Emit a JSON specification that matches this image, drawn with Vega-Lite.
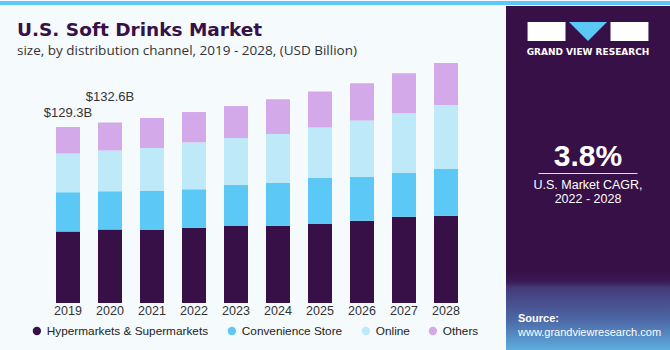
{
  "$schema": "https://vega.github.io/schema/vega-lite/v6.json",
  "background": "#f5fafd",
  "padding": 0,
  "config": {
    "view": {"stroke": null},
    "font": "Liberation Sans",
    "concat": {"spacing": 0}
  },
  "datasets": {
    "sales": [
      {"year": "2019", "channel": "Hypermarkets & Supermarkets", "value": 52.5},
      {"year": "2019", "channel": "Convenience Store", "value": 28.8},
      {"year": "2019", "channel": "Online", "value": 28.6},
      {"year": "2019", "channel": "Others", "value": 19.4},
      {"year": "2020", "channel": "Hypermarkets & Supermarkets", "value": 54.0},
      {"year": "2020", "channel": "Convenience Store", "value": 28.1},
      {"year": "2020", "channel": "Online", "value": 30.0},
      {"year": "2020", "channel": "Others", "value": 20.5},
      {"year": "2021", "channel": "Hypermarkets & Supermarkets", "value": 53.6},
      {"year": "2021", "channel": "Convenience Store", "value": 28.7},
      {"year": "2021", "channel": "Online", "value": 31.6},
      {"year": "2021", "channel": "Others", "value": 22.0},
      {"year": "2022", "channel": "Hypermarkets & Supermarkets", "value": 55.3},
      {"year": "2022", "channel": "Convenience Store", "value": 28.2},
      {"year": "2022", "channel": "Online", "value": 34.5},
      {"year": "2022", "channel": "Others", "value": 22.3},
      {"year": "2023", "channel": "Hypermarkets & Supermarkets", "value": 56.6},
      {"year": "2023", "channel": "Convenience Store", "value": 30.1},
      {"year": "2023", "channel": "Online", "value": 34.5},
      {"year": "2023", "channel": "Others", "value": 23.5},
      {"year": "2024", "channel": "Hypermarkets & Supermarkets", "value": 56.8},
      {"year": "2024", "channel": "Convenience Store", "value": 31.4},
      {"year": "2024", "channel": "Online", "value": 36.0},
      {"year": "2024", "channel": "Others", "value": 25.5},
      {"year": "2025", "channel": "Hypermarkets & Supermarkets", "value": 58.0},
      {"year": "2025", "channel": "Convenience Store", "value": 33.8},
      {"year": "2025", "channel": "Online", "value": 37.2},
      {"year": "2025", "channel": "Others", "value": 26.4},
      {"year": "2026", "channel": "Hypermarkets & Supermarkets", "value": 60.5},
      {"year": "2026", "channel": "Convenience Store", "value": 32.1},
      {"year": "2026", "channel": "Online", "value": 41.4},
      {"year": "2026", "channel": "Others", "value": 27.5},
      {"year": "2027", "channel": "Hypermarkets & Supermarkets", "value": 63.4},
      {"year": "2027", "channel": "Convenience Store", "value": 32.1},
      {"year": "2027", "channel": "Online", "value": 43.9},
      {"year": "2027", "channel": "Others", "value": 29.4},
      {"year": "2028", "channel": "Hypermarkets & Supermarkets", "value": 64.1},
      {"year": "2028", "channel": "Convenience Store", "value": 34.3},
      {"year": "2028", "channel": "Online", "value": 47.0},
      {"year": "2028", "channel": "Others", "value": 30.9}
    ],
    "channels": [
      {"channel": "Hypermarkets & Supermarkets", "rank": 1},
      {"channel": "Convenience Store", "rank": 2},
      {"channel": "Online", "rank": 3},
      {"channel": "Others", "rank": 4}
    ],
    "labels": [
      {"year": "2019", "total": 129.3, "label": "$129.3B"},
      {"year": "2020", "total": 132.6, "label": "$132.6B"}
    ],
    "logo": [{"part": "G"}, {"part": "V"}, {"part": "R"}],
    "blank": [{}]
  },
  "spacing": 0,
  "vconcat": [
    {
      "width": 670, "height": 4,
      "data": {"name": "blank"},
      "mark": {"type": "point", "opacity": 0},
      "encoding": {},
      "view": {"fill": "#5bc8f5", "stroke": null}
    },
    {
      "spacing": 20,
      "hconcat": [
        {
          "spacing": 0,
          "vconcat": [
            {
              "width": 486, "height": 15,
              "data": {"name": "blank"},
              "mark": {"type": "point", "opacity": 0},
              "encoding": {}
            },
            {
              "width": 486, "height": 245,
              "title": {
                "text": "U.S. Soft Drinks Market",
                "subtitle": "size, by distribution channel, 2019 - 2028, (USD Billion)",
                "anchor": "start", "frame": "group", "dx": 17, "offset": 1,
                "font": "DejaVu Sans", "fontSize": 18.5, "fontWeight": "bold", "color": "#371047",
                "subtitleFont": "Open Sans", "subtitleFontSize": 13.5,
                "subtitleColor": "#333333", "subtitlePadding": 4
              },
              "encoding": {
                "x": {
                  "field": "year", "type": "ordinal",
                  "scale": {
                    "type": "band",
                    "domain": ["2019","2020","2021","2022","2023","2024","2025","2026","2027","2028"],
                    "paddingInner": 0.4286, "paddingOuter": 1, "align": 0.6667
                  },
                  "axis": {
                    "title": null, "domain": false, "ticks": false, "tickSize": 0,
                    "labelPadding": 1, "labelFontSize": 12.5, "labelColor": "#333333",
                    "labelAngle": 0
                  }
                }
              },
              "layer": [
                {
                  "data": {"name": "sales"},
                  "transform": [
                    {"lookup": "channel", "from": {"data": {"name": "channels"}, "key": "channel", "fields": ["rank"]}}
                  ],
                  "mark": {"type": "bar"},
                  "encoding": {
                    "y": {
                      "field": "value", "type": "quantitative", "stack": "zero",
                      "scale": {"domain": [0, 180]}, "axis": null
                    },
                    "order": {"field": "rank", "type": "quantitative", "sort": "ascending"},
                    "color": {
                      "field": "channel", "type": "nominal",
                      "sort": ["Hypermarkets & Supermarkets", "Convenience Store", "Online", "Others"],
                      "scale": {
                        "domain": ["Hypermarkets & Supermarkets", "Convenience Store", "Online", "Others"],
                        "range": ["#371047", "#5bc8f5", "#bde9f9", "#d4a9ea"]
                      },
                      "legend": {
                        "title": null, "orient": "none", "legendX": 31, "legendY": 324,
                        "direction": "horizontal",
                        "symbolType": "circle", "symbolSize": 70, "symbolStrokeWidth": 0,
                        "labelFontSize": 11.8, "labelColor": "#222222", "labelLimit": 400,
                        "columnPadding": 17, "labelOffset": 4
                      }
                    }
                  }
                },
                {
                  "data": {"name": "labels"},
                  "transform": [{"filter": "datum.year == '2019'"}],
                  "mark": {"type": "text", "baseline": "alphabetic", "dy": -10, "fontSize": 13, "color": "#333333"},
                  "encoding": {
                    "y": {"field": "total", "type": "quantitative"},
                    "text": {"field": "label"}
                  }
                },
                {
                  "data": {"name": "labels"},
                  "transform": [{"filter": "datum.year == '2020'"}],
                  "mark": {"type": "text", "baseline": "alphabetic", "dy": -21.5, "fontSize": 13, "color": "#333333"},
                  "encoding": {
                    "y": {"field": "total", "type": "quantitative"},
                    "text": {"field": "label"}
                  }
                }
              ]
            }
          ]
        },
        {
          "spacing": 0,
          "vconcat": [
            {
              "width": 164, "height": 16,
              "data": {"name": "blank"},
              "mark": {"type": "point", "opacity": 0},
              "encoding": {},
              "view": {"fill": "#371047"}
            },
            {
              "width": 164, "height": 19,
              "data": {"name": "logo"},
              "view": {"fill": "#371047"},
              "encoding": {
                "x": {
                  "field": "part", "type": "nominal",
                  "scale": {"domain": ["G", "V", "R"], "paddingInner": 0.085, "paddingOuter": 0.52},
                  "axis": null
                }
              },
              "layer": [
                {
                  "transform": [{"filter": "datum.part != 'V'"}],
                  "mark": {"type": "bar", "color": "#ffffff"}
                },
                {
                  "transform": [{"filter": "datum.part == 'V'"}],
                  "mark": {"type": "point", "shape": "M-1,-0.5L1,-0.5L0,0.5Z", "size": 1444, "filled": true, "color": "#5bc8f5", "opacity": 1, "strokeWidth": 0}
                }
              ]
            },
            {
              "width": 164, "height": 27,
              "data": {"name": "blank"},
              "mark": {"type": "point", "opacity": 0},
              "encoding": {},
              "view": {"fill": "#371047"},
              "title": {
                "text": "GRAND VIEW RESEARCH", "orient": "bottom", "anchor": "middle", "frame": "group",
                "baseline": "top", "offset": -19.8,
                "font": "DejaVu Sans", "fontSize": 9, "fontWeight": "bold", "color": "#ffffff"
              }
            },
            {
              "width": 164, "height": 105,
              "data": {"name": "blank"},
              "mark": {"type": "point", "opacity": 0},
              "encoding": {},
              "view": {"fill": "#371047"},
              "title": {
                "text": "3.8%", "orient": "bottom", "anchor": "middle", "frame": "group",
                "baseline": "top", "offset": -31.5,
                "font": "Liberation Sans", "fontSize": 30, "fontWeight": "bold", "color": "#ffffff"
              }
            },
            {
              "width": 164, "height": 1,
              "data": {"values": [{"k": "rule"}]},
              "view": {"fill": "#371047"},
              "mark": {"type": "bar", "color": "#e6dcee"},
              "encoding": {
                "x": {"field": "k", "type": "nominal", "scale": {"paddingInner": 0, "paddingOuter": 0.328}, "axis": null}
              }
            },
            {
              "width": 164, "height": 98,
              "data": {"name": "blank"},
              "mark": {"type": "point", "opacity": 0},
              "encoding": {},
              "view": {"fill": "#371047"},
              "title": {
                "text": ["U.S. Market CAGR,", "2022 - 2028"], "orient": "bottom", "anchor": "middle", "frame": "group",
                "baseline": "top", "offset": -93, "lineHeight": 14,
                "font": "Liberation Sans", "fontSize": 12.5, "fontWeight": "normal", "color": "#ffffff"
              }
            },
            {
              "width": 164, "height": 80,
              "data": {"name": "blank"},
              "mark": {"type": "point", "opacity": 0},
              "encoding": {},
              "view": {
                "fill": {
                  "gradient": "linear", "x1": 0, "y1": 0, "x2": 0, "y2": 1,
                  "stops": [
                    {"offset": 0, "color": "#371047"},
                    {"offset": 0.12, "color": "#3b1a56"},
                    {"offset": 0.2, "color": "#443a7a"},
                    {"offset": 0.6, "color": "#4d68a6"},
                    {"offset": 1, "color": "#5fb2e2"}
                  ]
                }
              },
              "title": {
                "text": "Source:", "subtitle": "www.grandviewresearch.com",
                "orient": "bottom", "anchor": "start", "frame": "group", "dx": 12,
                "baseline": "top", "offset": -38.7,
                "font": "Liberation Sans", "fontSize": 11, "fontWeight": "bold", "color": "#ffffff",
                "subtitleFont": "Liberation Sans", "subtitleFontSize": 11, "subtitleColor": "#ffffff",
                "subtitlePadding": 2.5
              }
            }
          ]
        }
      ]
    }
  ]
}
